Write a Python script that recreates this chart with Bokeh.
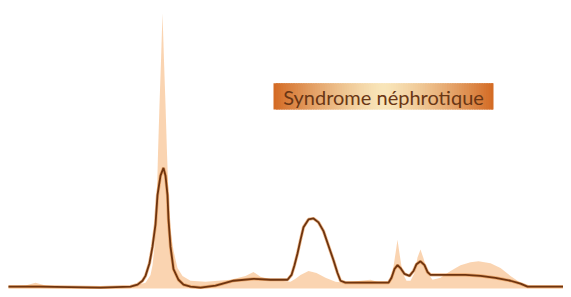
import numpy as np
from bokeh.plotting import figure
from bokeh.models import Range1d, ColumnDataSource, Label
from bokeh.embed import file_html
from bokeh.resources import INLINE

# Reference (normal) serum profile - filled area  (mobility, density)
ref_x = [8, 25, 35, 45, 60, 130, 145, 150, 152, 154, 156, 157.5, 159, 160.5, 162, 163.5, 165, 166.5,
         168, 170, 173, 177, 182, 190, 205, 230, 245, 253, 260, 270, 290, 295, 300, 308, 316, 325,
         335, 345, 360, 370, 380, 388, 392, 395, 397, 399, 402, 406, 410, 414, 417, 420, 423, 427,
         432, 440, 450, 460, 470, 478, 490, 500, 510, 520, 530, 571]
ref_y = [3, 4, 7, 4, 3, 3, 7, 15, 25, 44, 80, 140, 190, 235, 284, 235, 190, 140,
         97, 60, 40, 22, 14, 9, 8, 10, 14, 18, 13, 10, 8, 11, 15, 19, 17, 12,
         8, 7, 9, 10, 7, 7, 17, 37, 51, 37, 17, 9, 9, 17, 33, 41, 32, 17,
         10, 12, 19, 25, 28, 29, 27, 22, 14, 7, 3, 2]

# Nephrotic syndrome profile - dark line
neph_x = [8, 40, 100, 130, 137, 142, 145, 149, 152, 155, 157, 160, 163, 165, 167, 168, 170, 173, 178,
          183, 190, 200, 215, 233, 253, 270, 287, 291, 294, 297, 300, 303, 308, 313, 318, 323, 328,
          333, 337, 340, 345, 353, 370, 388, 391, 394, 397, 400, 404, 409, 413, 416, 420, 424, 427,
          430, 440, 450, 465, 480, 495, 510, 520, 527, 540, 571]
neph_y = [3, 3, 2, 3, 5, 9, 14, 27, 44, 67, 97, 117, 125, 117, 97, 72, 44, 21, 10,
          5, 3, 2, 4, 9, 11, 10, 10, 15, 25, 37, 51, 64, 72, 73, 69, 60, 45,
          30, 17, 9, 7, 7, 7, 7, 12, 21, 25, 22, 16, 14, 19, 26, 29, 25, 18,
          15, 15, 15, 15, 14, 12, 9, 6, 3, 3, 3]

title_text = "Syndrome néphrotique"

W, H = 563, 289
p = figure(width=W, height=H, output_backend="svg", toolbar_location=None,
           x_range=Range1d(0, 563), y_range=Range1d(0, 297), min_border=0)
p.axis.visible = False
p.grid.visible = False
p.outline_line_color = None
p.background_fill_color = "white"
p.border_fill_color = "white"

src_ref = ColumnDataSource(dict(x=ref_x, y=ref_y, base=[1] * len(ref_x)))
p.varea(x="x", y1="base", y2="y", source=src_ref, fill_color="#f9cfa9", fill_alpha=0.9)

src_neph = ColumnDataSource(dict(x=neph_x, y=neph_y))
p.line(x="x", y="y", source=src_neph, line_color="#e0893f", line_width=3.2, line_alpha=0.6)
p.line(x="x", y="y", source=src_neph, line_color="#6e340f", line_width=1.8)

# Title box with horizontal gradient
bx0, bx1, by0, by1 = 273, 493, 185, 212
n = 90
step = (bx1 - bx0) / n
lefts = bx0 + step * np.arange(n)
rights = np.minimum(lefts + step * 1.8, bx1)
t = (np.linspace(0, 1, n) - 0.5) * 2
w = np.clip(1 - np.abs(t) ** 1.3, 0, 1)
c_edge = np.array([212, 108, 38])
c_mid = np.array([249, 230, 186])
cols = ["#%02x%02x%02x" % tuple((c_edge + (c_mid - c_edge) * wi).astype(int)) for wi in w]
p.quad(left=lefts, right=rights, bottom=by0, top=by1, fill_color=cols, line_color=None)

lab = Label(x=(bx0 + bx1) / 2, y=(by0 + by1) / 2 - 1, text=title_text, text_align="center",
            text_baseline="middle", text_font="Lato", text_font_size="20px",
            text_color="#6a3614")
p.add_layout(lab)

open("out.html", "w").write(file_html(p, INLINE))
